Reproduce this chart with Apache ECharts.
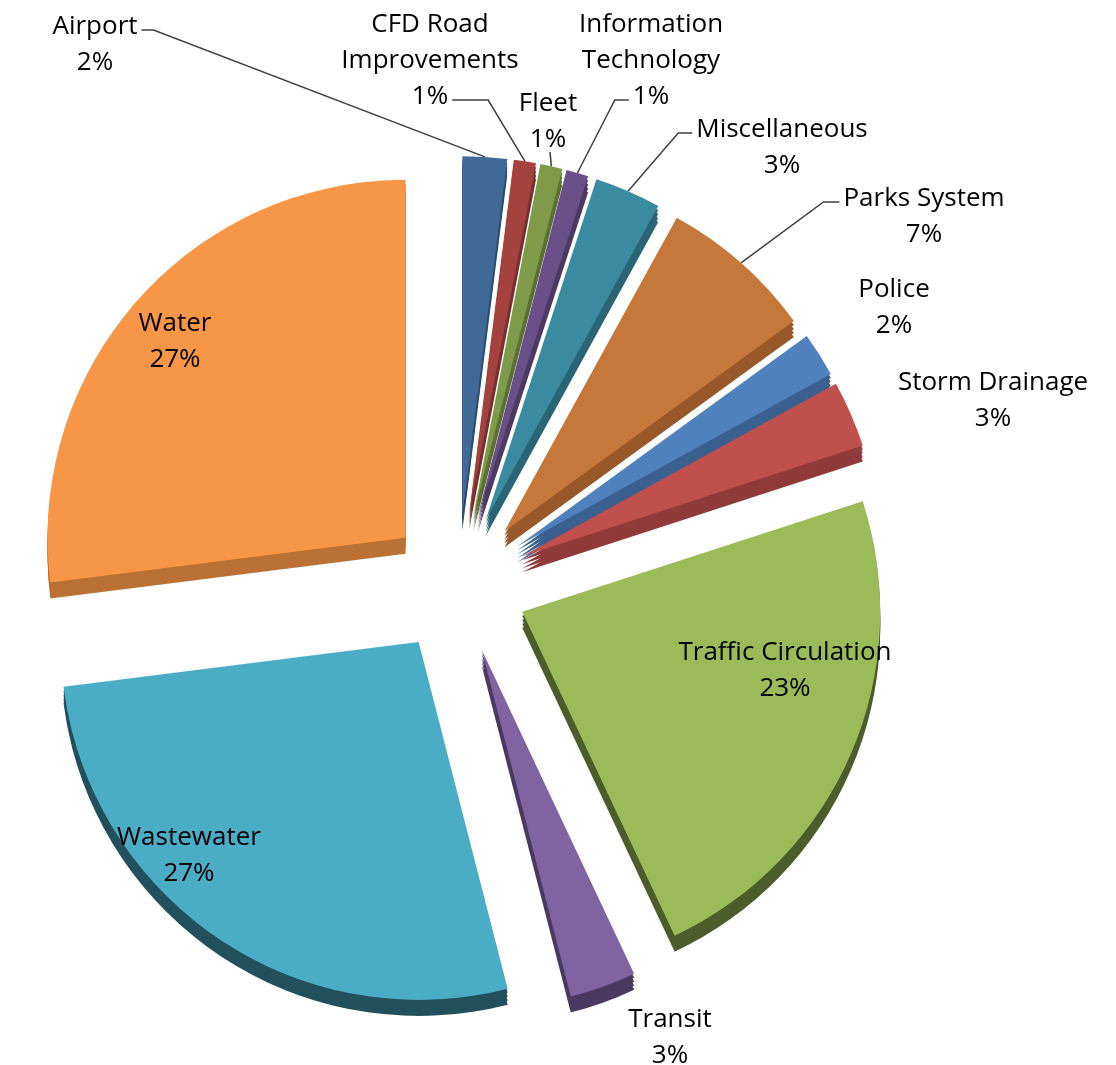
<!DOCTYPE html>
<html>
<head>
<meta charset="utf-8">
<script src="https://cdn.jsdelivr.net/npm/echarts@6/dist/echarts.min.js"></script>
<style>
  html, body { margin: 0; padding: 0; background: #ffffff; }
  #chart { width: 1116px; height: 1065px; }
</style>
</head>
<body>
<div id="chart"></div>
<script>
// ---- data (clockwise from 12 o'clock) ----
const categories = ['Airport', 'CFD Road Improvements', 'Fleet', 'Information Technology',
  'Miscellaneous', 'Parks System', 'Police', 'Storm Drainage', 'Traffic Circulation',
  'Transit', 'Wastewater', 'Water'];
const shares = [2, 1, 1, 1, 3, 7, 2, 3, 23, 3, 27, 27];

// ---- styles ----
const topColors = ['#3f6a98', '#a3423f', '#7f9a48', '#6a5088', '#3b8ba0', '#c6783a',
  '#4f81bd', '#c0504d', '#9bbb59', '#8064a2', '#4bacc6', '#f79646'];
const sideColors = ['#2c4d72', '#773030', '#5c7033', '#4c3a63', '#2a6575', '#98582a',
  '#3a6090', '#903b39', '#4d5c2b', '#4a3960', '#22505c', '#bb7034'];
const wrappedNames = {
  'CFD Road Improvements': 'CFD Road\nImprovements',
  'Information Technology': 'Information\nTechnology'
};
// label block centres (annotation placement)
const labelSpots = {
  'Airport': [95, 45],
  'CFD Road Improvements': [430, 61],
  'Fleet': [548, 122],
  'Information Technology': [651, 61],
  'Miscellaneous': [782, 148],
  'Parks System': [924, 217],
  'Police': [894, 308],
  'Storm Drainage': [993, 401],
  'Traffic Circulation': [785, 671],
  'Transit': [670, 1038],
  'Wastewater': [189, 856],
  'Water': [175, 342]
};
// where each leader line leaves its label, and its short horizontal lead
const lineAnchors = {
  'Airport': ['right', 0, 12],
  'CFD Road Improvements': ['right', 2, 36],
  'Fleet': ['bottom', 1, 0],
  'Information Technology': ['left', 2, 14],
  'Miscellaneous': ['left', 0, 14],
  'Parks System': ['left', 0, 16]
};

const CX = 458, CY = 584, R = 358, EXPLODE = 70, DEPTH = 16;
const FONT_SIZE = 26, LINE_H = 36, FONT_FAMILY = 'Open Sans';

const measureCtx = document.createElement('canvas').getContext('2d');
measureCtx.font = FONT_SIZE + 'px "' + FONT_FAMILY + '"';

function labelText(name, pct) {
  return (wrappedNames[name] || name) + '\n' + pct + '%';
}

function buildData(colors) {
  return categories.map((name, i) => ({
    name: name,
    value: shares[i],
    selected: true,
    itemStyle: { color: colors[i] }
  }));
}

function pieSeries(cy, colors) {
  return {
    type: 'pie',
    center: [CX, cy],
    radius: [0, R],
    startAngle: 90,
    clockwise: true,
    selectedMode: 'multiple',
    selectedOffset: EXPLODE,
    avoidLabelOverlap: false,
    animation: false,
    silent: true,
    emphasis: { disabled: true },
    itemStyle: { borderWidth: 0 },
    label: { show: false },
    labelLine: { show: false },
    data: buildData(colors)
  };
}

const series = [];
// extruded sides (darker copies stacked below the top face)
[DEPTH, DEPTH * 0.75, DEPTH * 0.5, DEPTH * 0.25].forEach(d => series.push(pieSeries(CY + d, sideColors)));
// top faces
series.push(pieSeries(CY, topColors));
// label carrier: transparent, un-exploded pie reaching the exploded outer edge
series.push({
  type: 'pie',
  center: [CX, CY],
  radius: [0, R + EXPLODE],
  startAngle: 90,
  clockwise: true,
  silent: true,
  animation: false,
  avoidLabelOverlap: false,
  percentPrecision: 0,
  emphasis: { disabled: true },
  itemStyle: { color: 'rgba(0,0,0,0)', borderWidth: 0 },
  label: {
    show: true,
    position: 'outside',
    color: '#000000',
    fontFamily: FONT_FAMILY,
    fontSize: FONT_SIZE,
    lineHeight: LINE_H,
    formatter: p => labelText(p.name, p.percent)
  },
  labelLine: {
    show: true,
    length: 10,
    length2: 10,
    lineStyle: { color: '#404040', width: 1.5 }
  },
  labelLayout: function (p) {
    const name = categories[p.dataIndex];
    const spot = labelSpots[name];
    const out = { x: spot[0], y: spot[1], align: 'center', verticalAlign: 'middle' };
    const anchor = lineAnchors[name];
    if (anchor && p.labelLinePoints) {
      const lines = p.text.split('\n');
      const top = spot[1] - lines.length * LINE_H / 2;
      const li = Math.min(anchor[1], lines.length - 1);
      const lw = measureCtx.measureText(lines[li]).width;
      const ly = top + LINE_H * (li + 0.5) + 3;
      const edge = p.labelLinePoints[0];
      let a, b;
      if (anchor[0] === 'right') {
        a = [spot[0] + lw / 2 + 4, ly];
        b = [a[0] + anchor[2], ly];
      } else if (anchor[0] === 'left') {
        a = [spot[0] - lw / 2 - 4, ly];
        b = [a[0] - anchor[2], ly];
      } else {
        a = [spot[0] + 2, top + lines.length * LINE_H - 6];
        b = a;
      }
      out.labelLinePoints = [a, b, [edge[0], edge[1]]];
    }
    return out;
  },
  data: categories.map((name, i) => ({
    name: name,
    value: shares[i],
    labelLine: { show: !!lineAnchors[name] }
  }))
});

const chart = echarts.init(document.getElementById('chart'), null, { renderer: 'canvas' });
chart.setOption({
  backgroundColor: '#ffffff',
  animation: false,
  series: series
});
</script>
</body>
</html>
